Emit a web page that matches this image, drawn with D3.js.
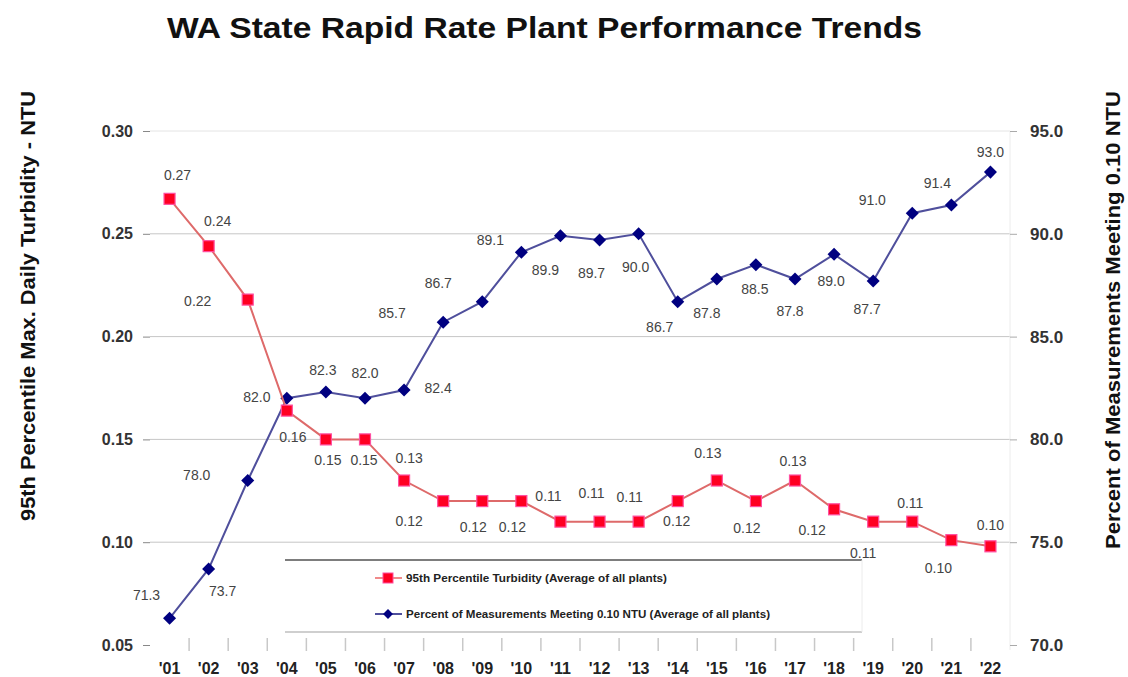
<!DOCTYPE html>
<html>
<head>
<meta charset="utf-8">
<script src="https://cdn.jsdelivr.net/npm/d3@7"></script>
<style>
  html, body { margin: 0; padding: 0; background: #fff; }
  svg { display: block; font-family: "Liberation Sans", Arial, Helvetica, sans-serif; }
</style>
</head>
<body>
<svg id="chart" width="1128" height="677"></svg>
<script>
// ---------------- data ----------------
const years = ["'01","'02","'03","'04","'05","'06","'07","'08","'09","'10","'11",
               "'12","'13","'14","'15","'16","'17","'18","'19","'20","'21","'22"];
const turbidity = [0.267,0.244,0.218,0.164,0.150,0.150,0.130,0.120,0.120,0.120,0.110,
                   0.110,0.110,0.120,0.130,0.120,0.130,0.116,0.110,0.110,0.101,0.098];
const percentMeeting = [71.3,73.7,78.0,82.0,82.3,82.0,82.4,85.7,86.7,89.1,89.9,
                        89.7,90.0,86.7,87.8,88.5,87.8,89.0,87.7,91.0,91.4,93.0];
const leftTicks = [0.05,0.10,0.15,0.20,0.25,0.30];
const rightTicks = [70,75,80,85,90,95];
const seriesNames = ["95th Percentile Turbidity (Average of all plants)",
                     "Percent of Measurements Meeting 0.10 NTU (Average of all plants)"];
const titleText = "WA State Rapid Rate Plant Performance Trends";
const leftTitle = "95th Percentile Max. Daily Turbidity - NTU";
const rightTitle = "Percent of Measurements Meeting 0.10 NTU";

// ---------------- layout (label offsets from their points) ----------------
const redLabelOffset = [[8,-24],[9,-25],[-50,2],[6,26],[2,21],[-1,21],[5,-22],[-34,20],[-9,26],[-9,26],[-12,-26],
                        [-8,-29],[-9,-25],[-1,20],[-9,-27],[-9,27],[-2,-19],[-22,21],[-10,31],[-2,-19],[-13,28],[0,-21]];
const blueLabelOffset = [[-23,-23],[14,22],[-51,-5],[-30,-1],[-3,-22],[0,-25],[34,-2],[-51,-9],[-44,-19],[-31,-12],[-15,34],
                         [-8,33],[-3,33],[-18,25],[-10,34],[-1,24],[-5,32],[-3,27],[-6,28],[-40,-13],[-14,-22],[0,-20]];

const W = 1128, H = 677;
const plot = {left: 150, right: 1010, top: 131, bottom: 645};

const svg = d3.select("#chart");

const x = d3.scaleBand().domain(years).range([plot.left, plot.right]).padding(0);
const yL = d3.scaleLinear().domain([0.05, 0.30]).range([plot.bottom, plot.top]);
const yR = d3.scaleLinear().domain([70, 95]).range([plot.bottom, plot.top]);
const cx = d => x(d) + x.bandwidth() / 2;

// title
svg.append("text")
  .attr("x", 167).attr("y", 38)
  .attr("font-size", 30).attr("font-weight", "bold").attr("fill", "#111")
  .attr("textLength", 755).attr("lengthAdjust", "spacingAndGlyphs")
  .text(titleText);

// gridlines
svg.append("g").selectAll("line")
  .data(leftTicks.filter(t => t > 0.05))
  .join("line")
  .attr("x1", plot.left).attr("x2", plot.right)
  .attr("y1", d => yL(d)).attr("y2", d => yL(d))
  .attr("stroke", d => d === 0.30 ? "#e4e4e4" : "#c6c6c6")
  .attr("stroke-width", 1);

// right border (faint)
svg.append("line")
  .attr("x1", plot.right).attr("x2", plot.right)
  .attr("y1", plot.top).attr("y2", plot.bottom + 5)
  .attr("stroke", "#ececec");

// left axis
const gL = svg.append("g").attr("transform", `translate(${plot.left},0)`)
  .call(d3.axisLeft(yL).tickValues(leftTicks).tickFormat(d3.format(".2f")).tickSize(7).tickPadding(10));
gL.select(".domain").remove();
gL.selectAll(".tick line").attr("stroke", "#888");
gL.selectAll(".tick text").attr("font-size", 16).attr("font-weight", "bold").attr("fill", "#333")
  .attr("font-family", "Liberation Sans, Arial, sans-serif");

// right axis
const gR = svg.append("g").attr("transform", `translate(${plot.right},0)`)
  .call(d3.axisRight(yR).tickValues(rightTicks).tickFormat(d3.format(".1f")).tickSize(7).tickPadding(13));
gR.select(".domain").remove();
gR.selectAll(".tick line").attr("stroke", "#aaa");
gR.selectAll(".tick text").attr("font-size", 17).attr("font-weight", "bold").attr("fill", "#333")
  .attr("font-family", "Liberation Sans, Arial, sans-serif");

// bottom axis labels
const gB = svg.append("g").attr("transform", `translate(0,${plot.bottom})`)
  .call(d3.axisBottom(x).tickSize(0).tickPadding(18));
gB.select(".domain").remove();
gB.selectAll(".tick text").attr("font-size", 16).attr("font-weight", "bold").attr("fill", "#222")
  .attr("font-family", "Liberation Sans, Arial, sans-serif");

// category separators
svg.append("g").selectAll("line")
  .data(years.slice(1))
  .join("line")
  .attr("x1", d => x(d)).attr("x2", d => x(d))
  .attr("y1", plot.bottom - 7).attr("y2", plot.bottom + 6)
  .attr("stroke", "#c8c8c8").attr("stroke-width", 1.5);

// axis titles
svg.append("text")
  .attr("transform", "translate(35,306) rotate(-90)")
  .attr("text-anchor", "middle")
  .attr("font-size", 20).attr("font-weight", "bold").attr("fill", "#111")
  .attr("textLength", 430).attr("lengthAdjust", "spacingAndGlyphs")
  .text(leftTitle);
svg.append("text")
  .attr("transform", "translate(1120,320) rotate(-90)")
  .attr("text-anchor", "middle")
  .attr("font-size", 20).attr("font-weight", "bold").attr("fill", "#111")
  .attr("textLength", 458).attr("lengthAdjust", "spacingAndGlyphs")
  .text(rightTitle);

// legend box
const lg = svg.append("g");
lg.append("rect").attr("x", 285).attr("y", 560).attr("width", 577).attr("height", 72).attr("fill", "#fff");
lg.append("line").attr("x1", 285).attr("x2", 862).attr("y1", 560).attr("y2", 560).attr("stroke", "#7d7d7d").attr("stroke-width", 2);
lg.append("line").attr("x1", 285).attr("x2", 862).attr("y1", 632).attr("y2", 632).attr("stroke", "#cfcfcf").attr("stroke-width", 2);
lg.append("line").attr("x1", 862).attr("x2", 862).attr("y1", 560).attr("y2", 632).attr("stroke", "#ececec");

const redLine = "#de6a6a", redFill = "#ff0022", redStroke = "#ff4fa0";
const blueLine = "#4f4f9c", blueFill = "#000080";

// legend entries
[[578, 0], [614, 1]].forEach(([ly, i]) => {
  lg.append("line").attr("x1", 375).attr("x2", 402).attr("y1", ly).attr("y2", ly)
    .attr("stroke", i === 0 ? "#f08a8a" : blueLine).attr("stroke-width", 2);
  if (i === 0) {
    lg.append("rect").attr("x", 383).attr("y", ly - 5).attr("width", 10).attr("height", 10)
      .attr("fill", redFill).attr("stroke", redStroke).attr("stroke-width", 1);
  } else {
    lg.append("rect").attr("x", -3.5).attr("y", -3.5).attr("width", 7).attr("height", 7)
      .attr("transform", `translate(388,${ly}) rotate(45)`).attr("fill", blueFill);
  }
  lg.append("text").attr("x", 406).attr("y", ly + 4)
    .attr("font-size", 11.6).attr("font-weight", "bold").attr("fill", "#222")
    .attr("textLength", i === 0 ? 261 : 364).attr("lengthAdjust", "spacingAndGlyphs")
    .text(seriesNames[i]);
});

// blue series
svg.append("path")
  .datum(percentMeeting)
  .attr("fill", "none").attr("stroke", blueLine).attr("stroke-width", 2)
  .attr("d", d3.line().x((d, i) => cx(years[i])).y(d => yR(d)));
svg.append("g").selectAll("rect")
  .data(percentMeeting)
  .join("rect")
  .attr("x", -4.6).attr("y", -4.6).attr("width", 9.2).attr("height", 9.2)
  .attr("transform", (d, i) => `translate(${cx(years[i])},${yR(d)}) rotate(45)`)
  .attr("fill", blueFill);

// red series
svg.append("path")
  .datum(turbidity)
  .attr("fill", "none").attr("stroke", redLine).attr("stroke-width", 2)
  .attr("d", d3.line().x((d, i) => cx(years[i])).y(d => yL(d)));
svg.append("g").selectAll("rect")
  .data(turbidity)
  .join("rect")
  .attr("x", (d, i) => cx(years[i]) - 5.5).attr("y", d => yL(d) - 5.5)
  .attr("width", 11).attr("height", 11)
  .attr("fill", redFill).attr("stroke", redStroke).attr("stroke-width", 1.2);

// data labels
const fmtR = d3.format(".2f"), fmtB = d3.format(".1f");
svg.append("g").selectAll("text")
  .data(turbidity)
  .join("text")
  .attr("x", (d, i) => cx(years[i]) + redLabelOffset[i][0])
  .attr("y", (d, i) => yL(d) + redLabelOffset[i][1])
  .attr("dy", "0.35em").attr("text-anchor", "middle")
  .attr("font-size", 14).attr("fill", "#444")
  .text(d => fmtR(d));
svg.append("g").selectAll("text")
  .data(percentMeeting)
  .join("text")
  .attr("x", (d, i) => cx(years[i]) + blueLabelOffset[i][0])
  .attr("y", (d, i) => yR(d) + blueLabelOffset[i][1])
  .attr("dy", "0.35em").attr("text-anchor", "middle")
  .attr("font-size", 14).attr("fill", "#444")
  .text(d => fmtB(d));
</script>
</body>
</html>
